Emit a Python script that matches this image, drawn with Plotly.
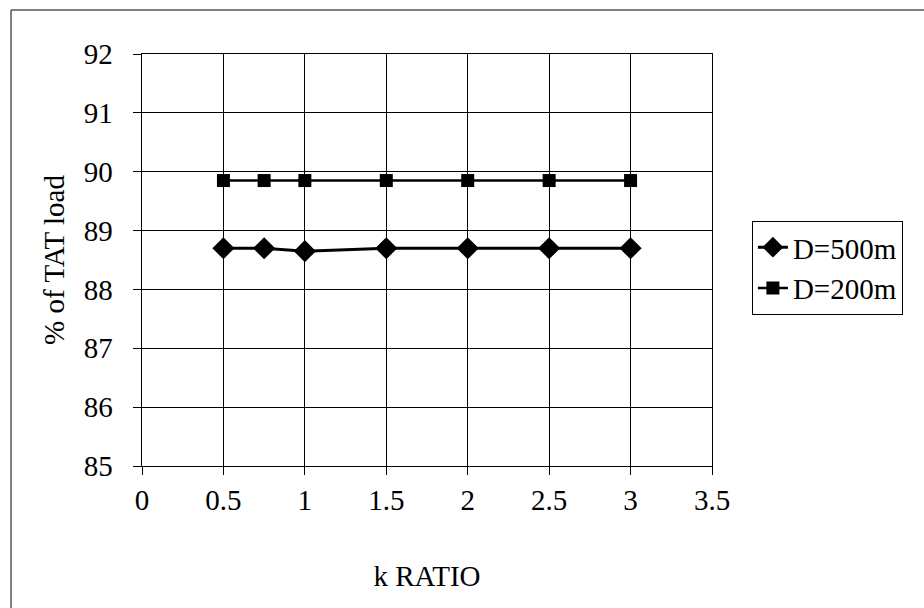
import plotly.graph_objects as go

k_ratio = [0.5, 0.75, 1, 1.5, 2, 2.5, 3]
d500 = [88.70, 88.70, 88.65, 88.70, 88.70, 88.70, 88.70]
d200 = [89.85, 89.85, 89.85, 89.85, 89.85, 89.85, 89.85]
names = ["D=500m", "D=200m"]

FONT = "Liberation Serif"
FS = 29

fig = go.Figure()
fig.add_trace(go.Scatter(x=k_ratio, y=d500, name=names[0], mode="lines+markers",
    line=dict(color="black", width=3), marker=dict(symbol="diamond", size=17, color="black")))
fig.add_trace(go.Scatter(x=k_ratio, y=d200, name=names[1], mode="lines+markers",
    line=dict(color="black", width=2.5), marker=dict(symbol="square", size=13, color="black")))

fig.update_layout(
    width=924, height=608,
    margin=dict(l=142, r=212, t=54, b=142),
    paper_bgcolor="white", plot_bgcolor="white",
    xaxis=dict(range=[0, 3.5], dtick=0.5,
               showgrid=True, gridcolor="black", gridwidth=1,
               showline=True, linecolor="black", linewidth=1, mirror=True,
               ticks="outside", ticklen=8, tickcolor="black", zeroline=False,
               tickfont=dict(family=FONT, size=FS, color="black"),
               title=dict(text="k RATIO", font=dict(family=FONT, size=FS, color="black"), standoff=50)),
    yaxis=dict(range=[85, 92], dtick=1, ticksuffix="\u00a0\u00a0",
               showgrid=True, gridcolor="black", gridwidth=1,
               showline=True, linecolor="black", linewidth=1, mirror=True,
               ticks="outside", ticklen=8, tickcolor="black", zeroline=False,
               tickfont=dict(family=FONT, size=FS, color="black"),
               title=dict(text="% of TAT load", font=dict(family=FONT, size=FS, color="black"), standoff=10)),
    legend=dict(x=1.07, y=0.595, xanchor="left", yanchor="top",
                bordercolor="black", borderwidth=1, bgcolor="white",
                font=dict(family=FONT, size=FS, color="black")),
    showlegend=True,
    shapes=[
        dict(type="line", xref="paper", yref="paper",
             x0=-0.2298, x1=-0.2298, y0=1.107, y1=-0.4,
             line=dict(color="#555", width=1.5)),
        dict(type="line", xref="paper", yref="paper",
             x0=-0.2298, x1=1.45, y0=1.107, y1=1.107,
             line=dict(color="#555", width=1.5)),
    ],
)

fig.write_html("out.html")
